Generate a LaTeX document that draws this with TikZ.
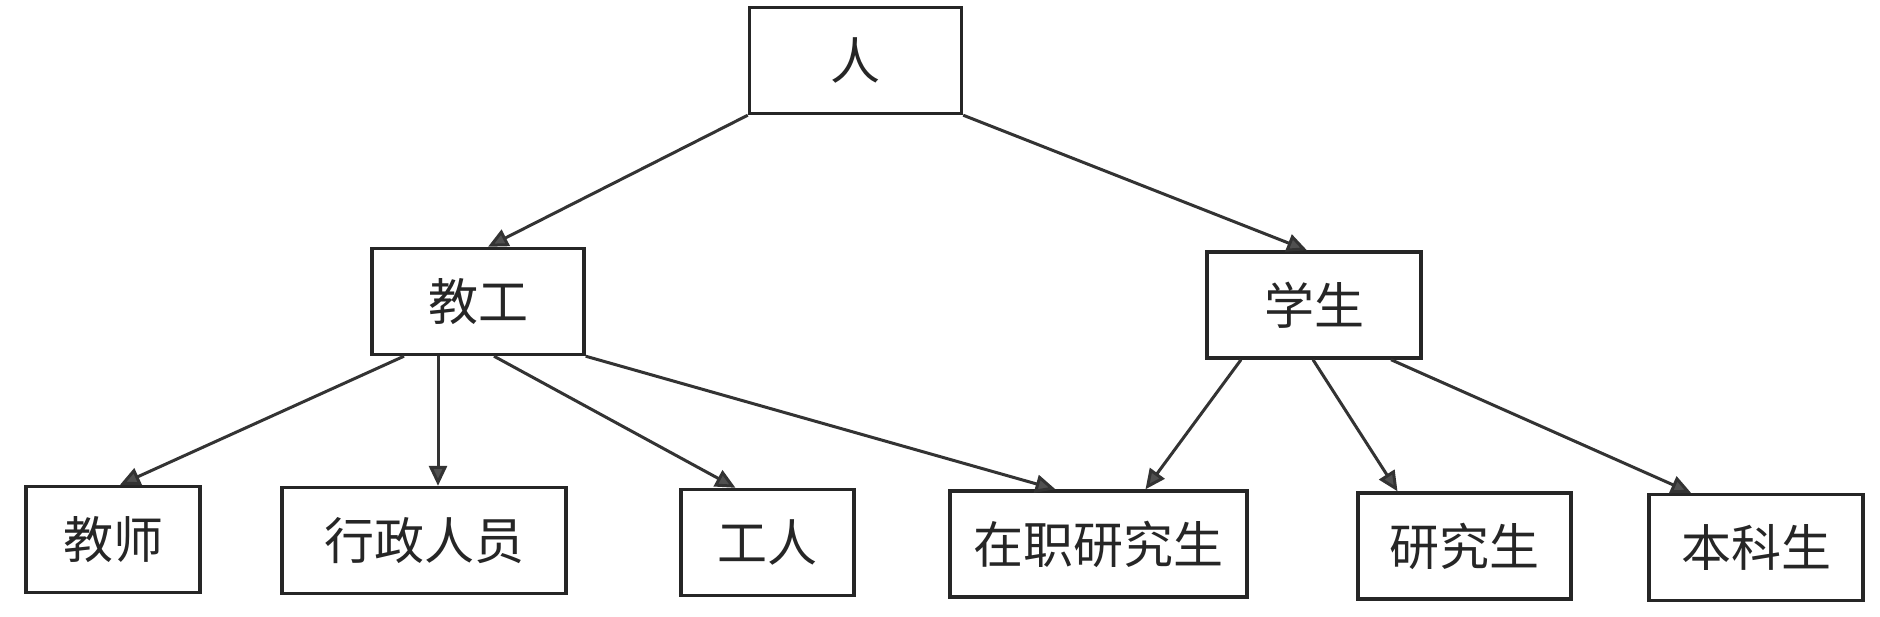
\documentclass[tikz,border=0pt]{standalone}
\usepackage{fontspec}
\newfontfamily\cjk{Noto Sans CJK SC}
\usetikzlibrary{arrows.meta,calc}
\definecolor{boxline}{HTML}{262626}
\definecolor{arrline}{HTML}{333333}
\definecolor{tipfill}{HTML}{505050}
\begin{document}
\begin{tikzpicture}[x=0.5pt,y=-0.5pt,
  box/.style={draw=boxline,line width=1.7pt,minimum height=53pt,inner sep=0pt,
    font=\cjk\fontsize{25}{30}\selectfont,text=black!85},
  arr/.style={draw=arrline,line width=1.5pt,
    -{Triangle[length=10pt,width=9pt,fill=tipfill]}}]
\useasboundingbox[fill=white] (0,0) rectangle (1880,616);
\node[box,minimum width=106pt] (ren) at (855.5,60.5) {人};
\node[box,minimum width=106pt] (jg) at (478,301.5) {教工};
\node[box,minimum width=107pt] (xs) at (1314,305) {学生};
\node[box,minimum width=87pt] (js) at (113,539.5) {教师};
\node[box,minimum width=142pt] (xz) at (424,540.5) {行政人员};
\node[box,minimum width=86.5pt] (gr) at (767.5,542.5) {工人};
\node[box,minimum width=148.5pt] (zz) at (1098.5,544) {在职研究生};
\node[box,minimum width=106.5pt] (yj) at (1464.5,546) {研究生};
\node[box,minimum width=107pt] (bk) at (1756,547.5) {本科生};
\draw[arr] (ren.south west) -- ($(jg.north)+(10,0)$);
\draw[arr] (ren.south east) -- ($(xs.north)+(-7,0)$);
\draw[arr] ($(jg.south)+(-74,0)$) -- ($(js.north)+(7,0)$);
\draw[arr] ($(jg.south)+(-40,0)$) -- ($(xz.north)+(14,0)$);
\draw[arr] ($(jg.south)+(16,0)$) -- ($(gr.north)+(-32,0)$);
\draw[arr] (jg.south east) -- ($(zz.north)+(-43,0)$);
\draw[arr] ($(xs.south)+(-73,0)$) -- ($(zz.north)+(47,0)$);
\draw[arr] ($(xs.south)+(-1,0)$) -- ($(yj.north)+(-67,0)$);
\draw[arr] ($(xs.south)+(77,0)$) -- ($(bk.north)+(-65,0)$);
\end{tikzpicture}
\end{document}
